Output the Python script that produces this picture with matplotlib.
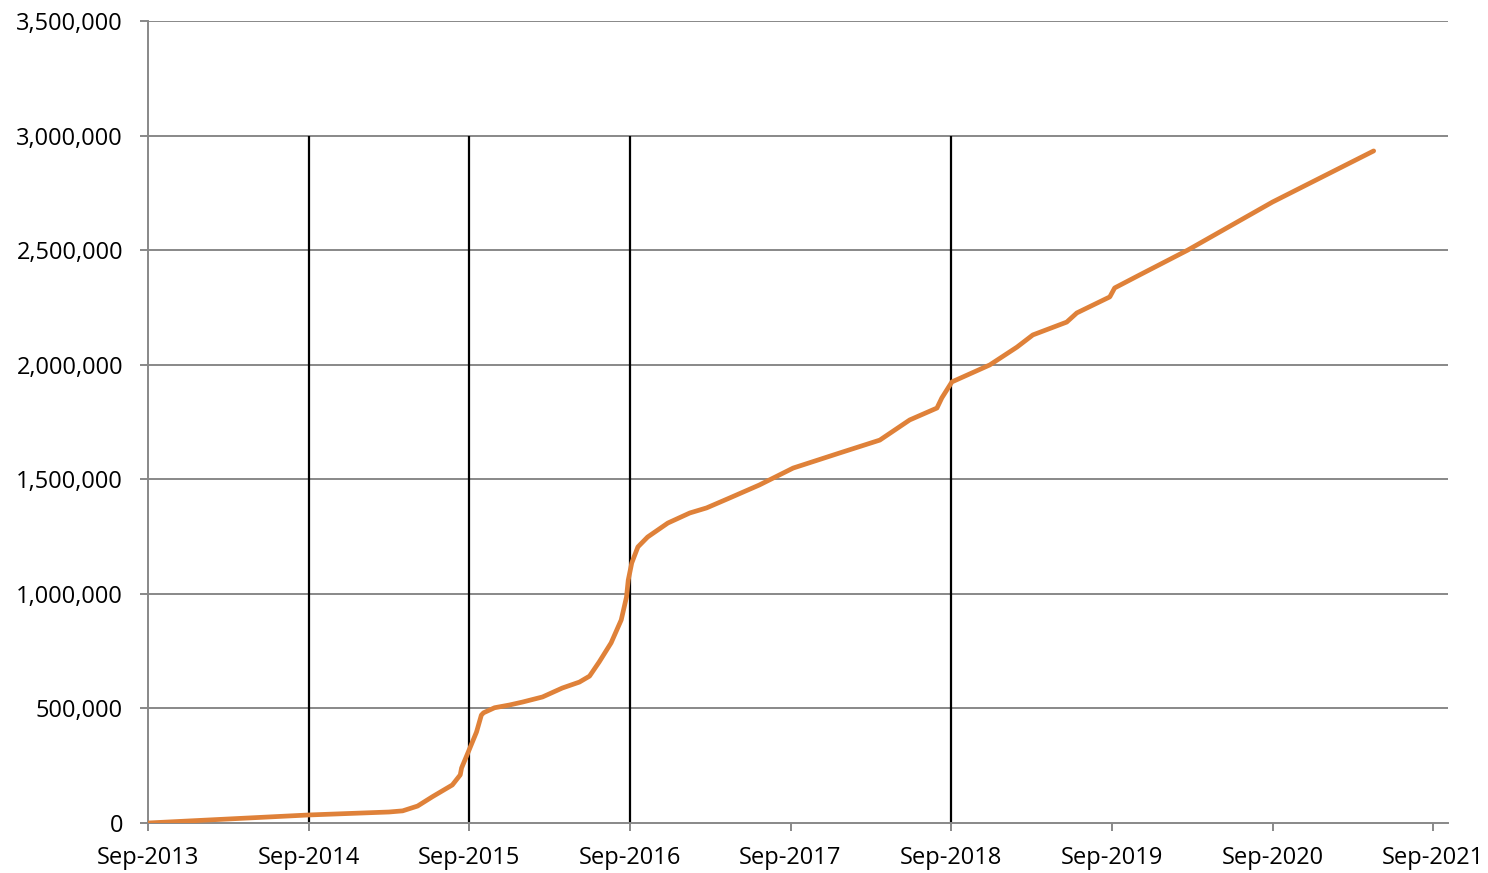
import numpy as np
import pandas as pd
import matplotlib
matplotlib.use("Agg")
import matplotlib.pyplot as plt
import matplotlib.dates as mdates
from matplotlib.ticker import FuncFormatter

# cumulative series
dates = ["2013-09-01", "2014-09-01", "2015-03-03", "2015-04-03", "2015-05-07",
         "2015-06-10", "2015-07-25", "2015-08-12", "2015-08-15", "2015-09-01",
         "2015-09-18", "2015-09-29", "2015-10-04", "2015-10-29", "2015-12-02",
         "2016-01-01", "2016-02-15", "2016-03-31", "2016-05-09", "2016-06-01",
         "2016-06-23", "2016-07-20", "2016-08-12", "2016-08-24", "2016-08-28",
         "2016-09-05", "2016-09-19", "2016-10-11", "2016-11-26", "2017-01-15",
         "2017-02-22", "2017-04-15", "2017-06-22", "2017-09-07", "2017-12-22",
         "2018-03-23", "2018-05-30", "2018-07-31", "2018-08-11", "2018-09-03",
         "2018-11-28", "2019-01-29", "2019-03-06", "2019-05-22", "2019-06-14",
         "2019-08-28", "2019-09-08", "2019-11-04", "2020-02-21", "2020-09-01",
         "2021-01-10", "2021-04-19"]
values = [0, 35000, 48000, 53000, 74000,
          115000, 166000, 210000, 240000, 318000,
          397000, 471000, 481000, 503000, 515000,
          528000, 550000, 589000, 615000, 641000,
          703000, 786000, 886000, 986000, 1060000,
          1135000, 1205000, 1248000, 1309000, 1353000,
          1375000, 1418000, 1475000, 1549000, 1615000,
          1671000, 1759000, 1811000, 1855000, 1925000,
          1999000, 2077000, 2130000, 2186000, 2226000,
          2296000, 2335000, 2392000, 2500000, 2710000,
          2837000, 2933000]

marker_dates = ["2014-09-01", "2015-09-01", "2016-09-01", "2018-09-01"]
marker_top = 3000000

tick_dates = pd.date_range("2013-09-01", "2021-09-01", freq="12MS")
y_ticks = np.arange(0, 3500001, 500000)

x = pd.to_datetime(dates)

plt.rcParams['font.family'] = ['Open Sans', 'DejaVu Sans']
fig = plt.figure(figsize=(14.88, 8.73), dpi=100)
ax = fig.add_axes([148/1488, 50/873, 1300/1488, 802/873])

grid_col = "#888888"
for yv in y_ticks[1:]:
    ax.axhline(yv, color=grid_col, lw=1.4, zorder=1)

ax.vlines(pd.to_datetime(marker_dates), 0, marker_top, color="black", lw=1.6, zorder=2)
ax.plot(x, values, color="#DF8139", lw=3.4, solid_capstyle="round",
        solid_joinstyle="round", zorder=3)

ax.set_xlim(pd.Timestamp("2013-09-01"), pd.Timestamp("2021-10-05"))
ax.set_ylim(0, 3500000)
ax.set_xticks(tick_dates)
ax.xaxis.set_major_formatter(mdates.DateFormatter("%b-%Y"))
ax.set_yticks(y_ticks)
ax.yaxis.set_major_formatter(FuncFormatter(lambda v, p: f"{int(v):,}"))

for s in ["top", "right"]:
    ax.spines[s].set_visible(False)
for s in ["left", "bottom"]:
    ax.spines[s].set_color(grid_col)
    ax.spines[s].set_linewidth(1.4)
ax.tick_params(axis="both", colors=grid_col, length=5.5, width=1.4, labelsize=17,
               labelcolor="black")
ax.tick_params(axis="y", pad=12.5)
ax.tick_params(axis="x", pad=11)

fig.savefig("out.png", dpi=100)
